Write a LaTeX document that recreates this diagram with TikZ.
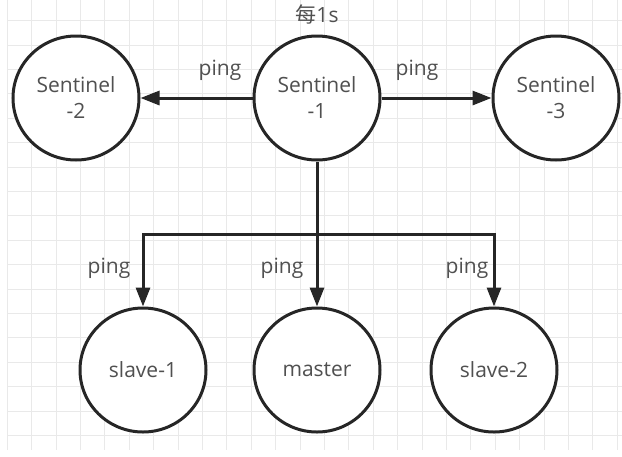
\documentclass[tikz,border=0pt]{standalone}
\usepackage{fontspec}
\setmainfont{Open Sans}
\newfontfamily\cjk{Noto Sans CJK SC}
\usetikzlibrary{shapes.geometric,arrows.meta}
\definecolor{gridc}{HTML}{E9E9E9}
\definecolor{inkc}{HTML}{262626}
\definecolor{txtc}{HTML}{505050}
\begin{document}
\begin{tikzpicture}[x=1pt,y=-1pt,
  ball/.style={ellipse,draw=inkc,line width=3pt,fill=white,minimum width=126pt,minimum height=124pt,inner sep=0pt,align=center,text=txtc,font=\fontsize{21}{26}\selectfont},
  lbl/.style={text=txtc,inner sep=0pt,font=\fontsize{21}{26}\selectfont},
  conn/.style={draw=inkc,line width=3pt,-{Triangle[length=19pt,width=14pt]}},
  gridline/.style={draw=gridc,line width=1pt}]
\useasboundingbox (0,0) rectangle (622,456);
\fill[white] (0,0) rectangle (622,456);
% grid
\foreach \i in {0,...,25} \draw[gridline] ({7.3+24.4*\i},0) -- ({7.3+24.4*\i},450);
\foreach \j in {0,...,17} \draw[gridline] (7.3,{20.7+24.4*\j}) -- (622,{20.7+24.4*\j});
% nodes
\node[ball] (s2) at (76,98) {Sentinel\\-2};
\node[ball] (s1) at (317,98) {Sentinel\\-1};
\node[ball] (s3) at (556,98) {Sentinel\\-3};
\node[ball] (sl1) at (143,370) {slave-1};
\node[ball] (ma) at (317,370) {master};
\node[ball] (sl2) at (494,370) {slave-2};
% bus corners
\coordinate (busL) at (sl1.north |- 0,234);
\coordinate (busR) at (sl2.north |- 0,234);
% connectors
\draw[conn] (s1.west) -- (s2.east);
\draw[conn] (s1.east) -- (s3.west);
\draw[conn] (s1.south) -- (ma.north);
\draw[conn] (busR) -- (busL) -- (sl1.north);
\draw[conn] (busL) -- (busR) -- (sl2.north);
% labels
\node[lbl] (t0) at (317,14) {{\cjk 每}1s};
\node[lbl] (p1) at (220,70) {ping};
\node[lbl] (p2) at (417,70) {ping};
\node[lbl] (p3) at (109,268) {ping};
\node[lbl] (p4) at (282,268) {ping};
\node[lbl] (p5) at (467,268) {ping};
\end{tikzpicture}
\end{document}
